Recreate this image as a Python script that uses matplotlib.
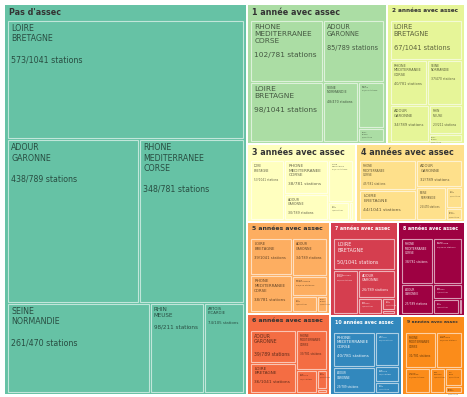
import matplotlib
matplotlib.use("Agg")
import matplotlib.pyplot as plt
from matplotlib.patches import Rectangle

W, H = 467, 397

bassins = ["LOIRE\nBRETAGNE", "ADOUR\nGARONNE", "RHONE\nMEDITERRANEE\nCORSE",
           "SEINE\nNORMANDIE", "RHIN\nMEUSE", "ARTOIS\nPICARDIE"]
stations = [1041, 789, 781, 470, 211, 105]

categories = ["Pas d'assec", "1 année avec assec", "2 années avec assec",
              "3 années avec assec", "4 années avec assec", "5 années avec assec",
              "6 années avec assec", "7 années avec assec", "8 années avec assec",
              "9 années avec assec", "10 années avec assec"]
couleurs = ["#66c2a5", "#abdda4", "#e6f598", "#ffffbf", "#fee08b", "#fdae61",
            "#f46d43", "#d53e4f", "#9e0142", "#fb8c1a", "#3288bd"]
fonces = ["7 années avec assec", "8 années avec assec", "10 années avec assec"]

# stations par bassin (meme ordre que bassins)
pas_assec = [573, 438, 348, 261, 98, 74]
an1 = [98, 85, 102, 48, 27, 8]
an2 = [67, 34, 40, 37, 23, 6]
an3 = [53, 30, 38, 27, 10, 2]
an4 = [44, 32, 45, 25, 9, 5]
an5 = [39, 34, 38, 18, 10, 4]
an6 = [36, 39, 33, 13, 5, 1]
an7 = [50, 26, 28, 10, 4, 1]
an8 = [34, 25, 38, 11, 10, 1]
an9 = [26, 17, 31, 10, 8, 3]
an10 = [21, 29, 40, 10, 7, 0]
valeurs = [pas_assec, an1, an2, an3, an4, an5, an6, an7, an8, an9, an10]


def pire(row, cote):
    s = sum(row)
    return max(max(cote * cote * r / (s * s), s * s / (cote * cote * r)) for r in row)


def squarify(vals, x, y, w, h):
    total = sum(vals)
    aires = [v * w * h / total for v in vals]
    rects = []
    i = 0
    while i < len(aires):
        cote = min(w, h)
        row = [aires[i]]
        i += 1
        while i < len(aires) and pire(row + [aires[i]], cote) <= pire(row, cote):
            row.append(aires[i])
            i += 1
        s = sum(row)
        if w >= h:
            cw = s / h
            yy = y
            for a in row:
                rects.append((x, yy, cw, a / cw))
                yy += a / cw
            x += cw
            w -= cw
        else:
            rh = s / w
            xx = x
            for a in row:
                rects.append((xx, y, a / rh, rh))
                xx += a / rh
            y += rh
            h -= rh
    return rects


fig = plt.figure(figsize=(W / 100, H / 100), dpi=100)
ax = fig.add_axes([0, 0, 1, 1])
ax.set_xlim(0, W)
ax.set_ylim(H, 0)
ax.axis("off")
renderer = fig.canvas.get_renderer()


def texte_ajuste(x, y, s, w, h, taille_max, clip=None, **kw):
    t = ax.text(x, y, s, fontsize=10, va="top", ha="left", **kw)
    taille = 10
    for _ in range(4):
        bb = t.get_window_extent(renderer)
        k = min(1.0, w / bb.width, h / bb.height)
        if taille == 10:
            k = min(k, taille_max / 10)
        if k >= 0.999 and taille != 10:
            break
        taille = max(taille * k, 0.2)
        t.set_fontsize(taille)
    if clip is not None:
        t.set_clip_path(clip)
    return t


totaux = [sum(v) for v in valeurs]
ordre = sorted(range(len(categories)), key=lambda i: -totaux[i])
cases = squarify([totaux[i] for i in ordre], 4, 4, 461, 391)

for i, (x, y, w, h) in zip(ordre, cases):
    x0, y0, w0, h0 = x + 1, y + 1, w - 2, h - 2
    ax.add_patch(Rectangle((x0, y0), w0, h0, facecolor=couleurs[i], edgecolor="none"))
    fonce = categories[i] in fonces
    texte_ajuste(x0 + 4, y0 + 3, categories[i], w0 - 10, 12, 5.8, weight="bold",
                 color="white" if fonce else "#333333")

    vals = valeurs[i]
    enfants = [k for k in sorted(range(len(bassins)), key=lambda k: -vals[k]) if vals[k] > 0]
    sous = squarify([vals[k] for k in enfants], x0 + 2, y0 + 15, w0 - 4, h0 - 16)
    for k, (cx, cy, cw, ch) in zip(enfants, sous):
        cadre = Rectangle((cx + 1, cy + 1), max(cw - 2, 0.5), max(ch - 2, 0.5),
                          facecolor="none", edgecolor=(1, 1, 1, 0.6), lw=0.8)
        ax.add_patch(cadre)
        # les cases trop petites ne portent pas de texte lisible
        if cw < 6 or ch < 6:
            continue
        pad = min(3, 0.2 * cw, 0.2 * ch)
        etiquette = f"{bassins[k]}\n\n{vals[k]}/{stations[k]} stations"
        texte_ajuste(cx + 1 + pad, cy + 1 + pad, etiquette, cw - 2 - 2.5 * pad,
                     ch - 2 - 2.5 * pad, 5.7, clip=cadre,
                     color=(1, 1, 1, 0.9) if fonce else (0, 0, 0, 0.6))

fig.savefig("out.png", dpi=100)
